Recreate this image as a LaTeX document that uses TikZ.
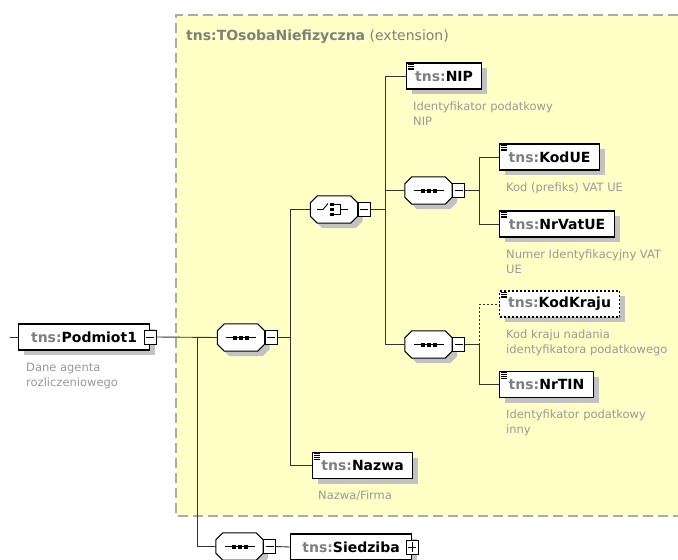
\documentclass[tikz,border=0pt]{standalone}
\usepackage{fontspec}
\setmainfont{DejaVu Sans}
\usetikzlibrary{positioning,shadows}
\definecolor{extfill}{HTML}{FFFFC6}
\definecolor{extline}{HTML}{ABABAB}
\definecolor{shgray}{HTML}{C2C2C2}
\definecolor{pfxgray}{HTML}{7F7F7F}
\definecolor{descgray}{HTML}{999999}
\definecolor{linkgray}{HTML}{333333}
\newcommand{\tns}[1]{{\color{pfxgray}tns:}#1}
\newcommand{\leafmark}[1]{%
  \foreach \k in {0,...,3}
    \draw[line width=0.6pt] ([shift={(1.5,1.8+1.8*\k)}]#1.north west) -- ++(6,0);}
\newcommand{\compframe}[1]{%
  \path[octo] ([xshift=7pt]#1.north west) -- ([xshift=-7pt]#1.north east) -- ([yshift=-7pt]#1.north east)
    -- ([yshift=7pt]#1.south east) -- ([xshift=-7pt]#1.south east) -- ([xshift=7pt]#1.south west)
    -- ([yshift=7pt]#1.south west) -- ([yshift=-7pt]#1.north west) -- cycle;}
\newcommand{\seqmark}[1]{%
  \draw[line width=0.9pt] ([xshift=-15pt]#1.center) -- ([xshift=15pt]#1.center);
  \foreach \d in {-6,0,6}
    \fill ([xshift=\d pt]#1.center) +(-2,-2) rectangle +(2,2);}
\newcommand{\choicemark}[1]{%
  \draw[line width=0.9pt] ([xshift=-17pt]#1.center) -- ++(6,0) -- ++(5,-6);
  \foreach \d in {-5,0,5}
    \fill ([shift={(-2,\d)}]#1.center) +(-1.8,-1.8) rectangle +(1.8,1.8);
  \draw[line width=0.9pt] ([shift={(0,-5)}]#1.center) -- ++(6,0) -- ++(0,10) -- ++(-6,0);
  \draw[line width=0.9pt] ([shift={(6,0)}]#1.center) -- ++(8,0);}
\tikzset{
  elem/.style = {draw=black, fill=white, line width=1.1pt, anchor=west, inner sep=0pt,
    minimum height=26pt, font=\fontsize{14}{16}\selectfont\bfseries,
    drop shadow={shadow xshift=5pt, shadow yshift=-5pt, fill=shgray, opacity=1}},
  optelem/.style = {elem, dash pattern=on 2pt off 2pt},
  desc/.style = {align=left, inner sep=0pt, text=descgray, font=\fontsize{11.5}{15}\selectfont},
  comp/.style = {minimum width=47pt, minimum height=27pt, inner sep=0pt},
  octo/.style = {draw=black, fill=white, line width=1pt,
    drop shadow={shadow xshift=5pt, shadow yshift=-5pt, fill=shgray, opacity=1}},
  btn/.style = {draw=black, fill=white, line width=0.8pt, minimum width=12pt, minimum height=14pt, inner sep=0pt},
  minusbtn/.style = {btn, path picture={
    \draw[line width=0.7pt] ([xshift=2pt]path picture bounding box.west) -- ([xshift=-2pt]path picture bounding box.east);}},
  plusbtn/.style = {btn, path picture={
    \draw[line width=0.7pt] ([xshift=2pt]path picture bounding box.west) -- ([xshift=-2pt]path picture bounding box.east);
    \draw[line width=0.7pt] ([yshift=-2pt]path picture bounding box.north) -- ([yshift=2pt]path picture bounding box.south);}},
  link/.style = {draw=linkgray, line width=0.9pt},
  exttitle/.style = {anchor=west, inner sep=0pt, text=pfxgray, font=\fontsize{14}{16}\selectfont},
}
\begin{document}
\begin{tikzpicture}[x=1pt,y=-1pt]
\useasboundingbox (0,0) rectangle (678,560);
\fill[extfill] (176,15) rectangle (678,516);
\draw[extline, line width=1.3pt, dash pattern=on 10pt off 5pt] (678,15) -- (176,15) -- (176,516) -- (678,516);
\node[exttitle] (ttl) at (186,37) {\textbf{tns:TOsobaNiefizyczna} (extension)};

\node[elem, minimum width=131pt] (P) at (18,337) {\tns{Podmiot1}};
\node[minusbtn] (Pb) at (P.east) {};
\node[desc, below right=12pt and 8pt of P.south west] (Pd) {Dane agenta\\rozliczeniowego};

\node[comp] (S1) at (241,337.5) {};
\compframe{S1}
\seqmark{S1}
\node[minusbtn, right=0pt of S1] (S1b) {};

\node[comp] (C) at (334,209.5) {};
\compframe{C}
\choicemark{C}
\node[minusbtn, right=0pt of C] (Cb) {};

\node[elem, minimum width=75pt] (NIP) at (406,76) {\tns{NIP}};
\leafmark{NIP}
\node[desc, below right=12pt and 7pt of NIP.south west] (NIPd) {Identyfikator podatkowy\\NIP};

\node[comp] (S2) at (428.5,190.5) {};
\compframe{S2}
\seqmark{S2}
\node[minusbtn, right=0pt of S2] (S2b) {};

\node[elem, minimum width=100pt] (KodUE) at (499,157) {\tns{KodUE}};
\leafmark{KodUE}
\node[desc, below right=12pt and 7pt of KodUE.south west] (KodUEd) {Kod (prefiks) VAT UE};

\node[elem, minimum width=115pt] (NrVatUE) at (499,224) {\tns{NrVatUE}};
\leafmark{NrVatUE}
\node[desc, below right=12pt and 7pt of NrVatUE.south west] (NrVatUEd) {Numer Identyfikacyjny VAT\\UE};

\node[comp] (S3) at (428.5,344.5) {};
\compframe{S3}
\seqmark{S3}
\node[minusbtn, right=0pt of S3] (S3b) {};

\node[optelem, minimum width=120pt] (KodKraju) at (499,304) {\tns{KodKraju}};
\leafmark{KodKraju}
\node[desc, below right=12pt and 7pt of KodKraju.south west] (KodKrajud) {Kod kraju nadania\\identyfikatora podatkowego};

\node[elem, minimum width=94pt] (NrTIN) at (499,384.5) {\tns{NrTIN}};
\leafmark{NrTIN}
\node[desc, below right=12pt and 7pt of NrTIN.south west] (NrTINd) {Identyfikator podatkowy\\inny};

\node[elem, minimum width=100pt] (Nazwa) at (312,465.5) {\tns{Nazwa}};
\leafmark{Nazwa}
\node[desc, below right=12pt and 6pt of Nazwa.south west] (Nazwad) {Nazwa/Firma};

\node[comp] (S4) at (239.5,546.5) {};
\compframe{S4}
\seqmark{S4}
\node[minusbtn, right=0pt of S4] (S4b) {};
\node[elem, minimum width=121pt] (Sd) at (290,547) {\tns{Siedziba}};
\node[plusbtn] (Sdb) at (Sd.east) {};

\coordinate (in) at (10,337);
\coordinate (t0) at (197,337);
\coordinate (t1) at (290,337.5);
\coordinate (t2) at (385,209.5);
\coordinate (t3) at (479,190.5);
\coordinate (t4) at (479,344.5);

\draw[link] (in) -- (P.west);
\draw[link] (Pb.east) -- (S1.west);
\draw[link] (t0) |- (S4.west);
\draw[link] (S1b.east) -- (t1);
\draw[link] (t1) |- (C.west);
\draw[link] (t1) |- (Nazwa.west);
\draw[link] (Cb.east) -- (t2);
\draw[link] (t2) |- (NIP.west);
\draw[link] (t2) |- (S2.west);
\draw[link] (t2) |- (S3.west);
\draw[link] (S2b.east) -- (t3);
\draw[link] (t3) |- (KodUE.west);
\draw[link] (t3) |- (NrVatUE.west);
\draw[link] (S3b.east) -- (t4);
\draw[link, dash pattern=on 2pt off 2pt] (t4) |- (KodKraju.west);
\draw[link] (t4) |- (NrTIN.west);
\draw[link] (S4b.east) -- (Sd.west);
\end{tikzpicture}
\end{document}
